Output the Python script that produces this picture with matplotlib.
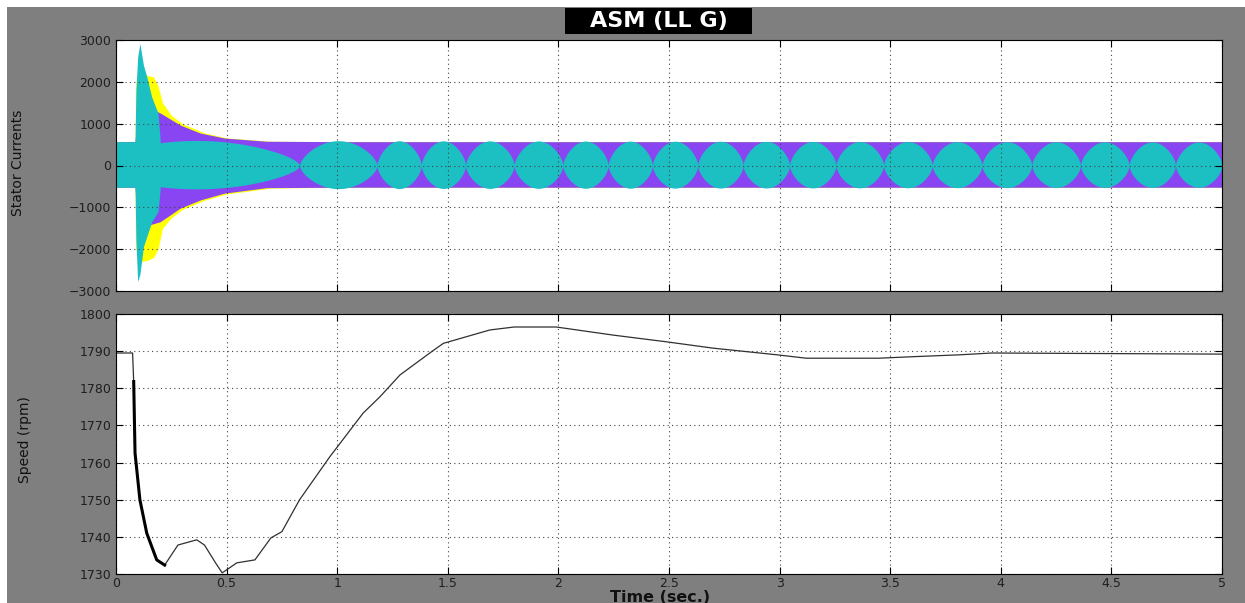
import numpy as np
import matplotlib.pyplot as plt
from matplotlib.patches import Rectangle

# stator current envelopes (A)
yel_t = [0, 0.086, 0.09, 0.11, 0.14, 0.17, 0.19, 0.21, 0.25, 0.3, 0.4, 0.5, 0.7, 1.0, 5.0]
yel_top = [570, 570, 2000, 2300, 2150, 2120, 1900, 1500, 1200, 1000, 780, 660, 580, 570, 570]
yel_bot = [-520, -520, -2000, -2300, -2270, -2200, -2000, -1500, -1250, -1050, -830, -680, -540, -520, -520]

pur_t = [0, 0.086, 0.1, 0.2, 0.29, 0.38, 0.49, 0.68, 1.0, 5.0]
pur_top = [570, 570, 1500, 1255, 968, 777, 657, 580, 570, 570]
pur_bot = [-520, -520, -1500, -1343, -1020, -825, -660, -530, -520, -520]

cya_t = [0, 0.086, 0.09, 0.098, 0.108, 0.124, 0.139, 0.154, 0.161, 0.19, 0.2, 5.0]
cya_top = [570, 570, 1800, 2600, 2920, 2400, 2123, 1800, 1645, 1248, 600, 560]
cya_bot = [-520, -520, -1800, -2778, -2600, -1940, -1700, -1462, -1350, -1100, -560, -520]

# times where the cyan trace pinches to zero (first one is before the plot)
pinch_t = [-0.1, 0.83, 1.18, 1.38, 1.58, 1.80, 2.02, 2.225, 2.425, 2.63, 2.835,
           3.045, 3.255, 3.47, 3.69, 3.915, 4.14, 4.36, 4.58, 4.79, 5.0]

# rotor speed (rpm)
spd_t = [0, 0.075, 0.08, 0.086, 0.108, 0.139, 0.184, 0.22, 0.28, 0.365, 0.40, 0.45,
         0.48, 0.546, 0.628, 0.70, 0.75, 0.83, 0.967, 1.117, 1.193, 1.284, 1.43,
         1.48, 1.69, 1.80, 1.99, 2.25, 2.49, 2.70, 2.99, 3.12, 3.45, 3.6, 3.81,
         3.96, 4.3, 5.0]
spd = [1789.5, 1789.5, 1781.8, 1762.6, 1750, 1741, 1733.8, 1732.4, 1737.8, 1739.2,
       1737.8, 1733, 1730.3, 1733, 1733.8, 1739.7, 1741.4, 1750, 1761.6, 1773.3,
       1777.7, 1783.6, 1790, 1792.1, 1795.7, 1796.5, 1796.5, 1794.3, 1792.5, 1790.8,
       1789.0, 1788.1, 1788.1, 1788.5, 1789.0, 1789.5, 1789.4, 1789.2]

gray = '#7f7f7f'
W, H = 1245, 603
fig = plt.figure(figsize=(12.45, 6.03), dpi=100)
fig.patch.set_facecolor('white')
fig.patches.append(Rectangle((7 / W, 0), 1 - 7 / W, 1 - 7 / H,
                             transform=fig.transFigure, facecolor=gray,
                             edgecolor='none', zorder=-10))

L, R = 116 / W, 1222 / W
ax1 = fig.add_axes([L, 1 - 291 / H, R - L, 251 / H])
ax2 = fig.add_axes([L, 1 - 574 / H, R - L, 260 / H])

t = np.linspace(0, 5, 6001)
s = np.interp(t, pinch_t, np.arange(len(pinch_t)))
lens = np.where(t < 0.2, 1.0, np.abs(np.sin(np.pi * s)) ** 0.6)

ax1.fill_between(t, np.interp(t, yel_t, yel_bot), np.interp(t, yel_t, yel_top),
                 color='#ffff00', lw=0)
ax1.fill_between(t, np.interp(t, pur_t, pur_bot), np.interp(t, pur_t, pur_top),
                 color='#8a45f2', lw=0)
ax1.fill_between(t, np.interp(t, cya_t, cya_bot) * lens,
                 np.interp(t, cya_t, cya_top) * lens, color='#1cbfc2', lw=0)
ax1.set_ylim(-3000, 3000)
ax1.set_yticks(range(-3000, 3001, 1000))
ax1.set_xticklabels([])

ax2.plot(spd_t, spd, color='#303030', lw=0.9)
thick = [i for i, v in enumerate(spd_t) if 0.08 <= v <= 0.22]
ax2.plot([spd_t[i] for i in thick], [spd[i] for i in thick], color='black', lw=2.2)
ax2.set_ylim(1730, 1800)
ax2.set_yticks(range(1730, 1801, 10))

for ax in (ax1, ax2):
    ax.set_xlim(0, 5)
    ax.set_xticks(np.arange(0, 5.01, 0.5))
    ax.grid(True, color='#444444', linestyle=(0, (1, 3)), lw=0.8)
    ax.tick_params(direction='in', length=5, top=True, right=True,
                   labelsize=9, labelcolor='#1e1e1e', color='black')
    for sp in ax.spines.values():
        sp.set_color('black')
        sp.set_linewidth(0.8)
ax2.tick_params(axis='x', pad=2)
ax2.set_xticklabels(['0', '0.5', '1', '1.5', '2', '2.5', '3', '3.5', '4', '4.5', '5'])

narrow = ['Liberation Sans Narrow', 'DejaVu Sans']
fig.text(18 / W, 1 - 163 / H, 'Stator Currents', rotation=90, ha='center',
         va='center', fontsize=10, family=narrow, color='#111111')
fig.text(25 / W, 1 - 440 / H, 'Speed (rpm)', rotation=90, ha='center',
         va='center', fontsize=10, family=narrow, color='#111111')

# title in a black box
fig.patches.append(Rectangle((565 / W, 1 - 34 / H), 187 / W, 26 / H,
                             transform=fig.transFigure, facecolor='black',
                             edgecolor='none', zorder=-5))
fig.text(659 / W, 1 - 21 / H, 'ASM (LL G)', ha='center', va='center',
         fontsize=16, fontweight='bold', color='white', family='DejaVu Sans')
fig.text(660 / W, 1 - 590 / H, 'Time (sec.)', ha='center', va='top',
         fontsize=11.5, fontweight='bold', color='#111111')

fig.savefig('out.png', dpi=100, facecolor=fig.get_facecolor())
